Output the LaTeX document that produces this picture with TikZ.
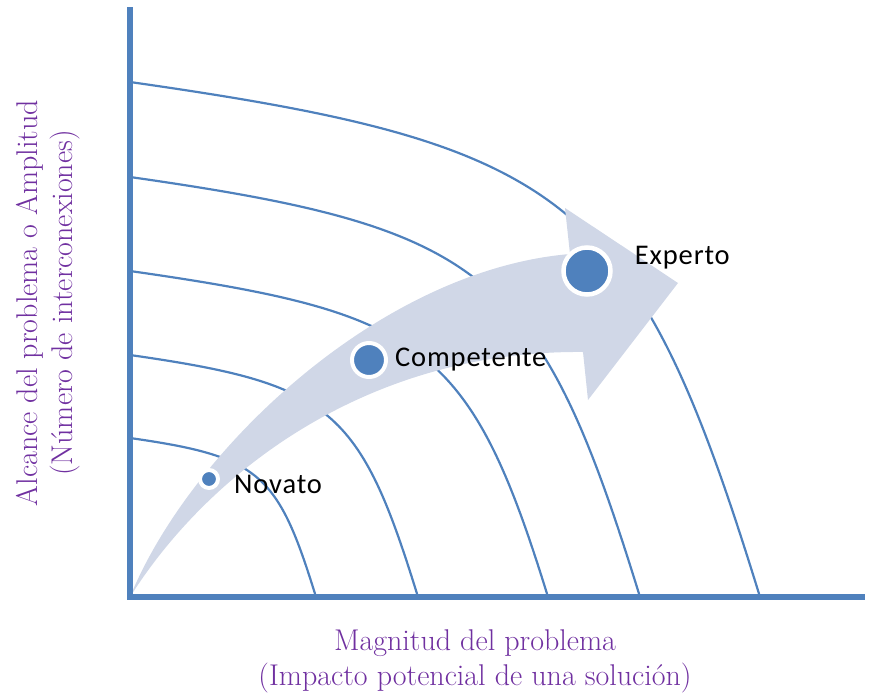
\documentclass[tikz,border=0pt]{standalone}
\usepackage{fontspec}
\newfontfamily\labfont{Carlito}[LetterSpace=3]
\usetikzlibrary{positioning}
\definecolor{axisblue}{RGB}{79,129,189}
\definecolor{arrowfill}{RGB}{208,215,231}
\definecolor{labpurple}{RGB}{112,48,160}

\begin{document}
\begin{tikzpicture}[x=1pt,y=-1pt,
  curve/.style={axisblue, line width=2.2pt},
  axis/.style={axisblue, line width=6pt},
  stage/.style={circle, fill=axisblue, draw=white, inner sep=0pt},
  stagelbl/.style={font=\labfont\fontsize{28.5}{32}\selectfont, inner sep=0pt},
  axislbl/.style={font=\fontsize{30}{35}\selectfont, text=labpurple, align=center, inner sep=0pt}]

		\useasboundingbox (0,0) rectangle (871,699);

		% Define coordinates
		\coordinate (o)    at (130,597);
		\coordinate (ytop) at (130,7);
		\coordinate (xend) at (865,597);

		% Contours
		\foreach \ys/\xe in {82/760,177/640,271/548,355/418,438/316}
		  \draw[curve] (130,\ys) .. controls ({130+0.7*(\xe-130)},{\ys+0.1*(\xe-130)}) and ({\xe-0.24*(597-\ys)},{597-0.78*(597-\ys)}) .. (\xe,597);

		% Arrow
		\fill[arrowfill] (o) .. controls (190,450) and (380,270) .. (570,254)
		  -- (565,208) -- (678,283) -- (588,400) -- (583,352)
		  .. controls (370,350) and (210,470) .. (o) -- cycle;

		% Axes
		\draw[axis] (ytop) -- (o) -- (xend);

		% Define nodes
		\node[stage, minimum size=18pt, line width=4pt]   (nov)  at (209,479) {};
		\node[stage, minimum size=34pt, line width=4pt]   (comp) at (369,360) {};
		\node[stage, minimum size=47pt, line width=4.5pt] (exp)  at (587,271) {};

		\node[stagelbl, right=14pt of nov, yshift=-5pt] (nov_l)  {Novato};
		\node[stagelbl, right=7pt of comp]              (comp_l) {Competente};
		\node[stagelbl, right=22pt of exp, yshift=13pt] (exp_l)  {Experto};

		% Axis labels
		\node[axislbl] (x_l) at (475,661) {Magnitud del problema\\(Impacto potencial de una solución)};
		\node[axislbl, rotate=90] (y_l) at (48,303) {Alcance del problema o Amplitud\\(Número de interconexiones)};

\end{tikzpicture}
\end{document}
